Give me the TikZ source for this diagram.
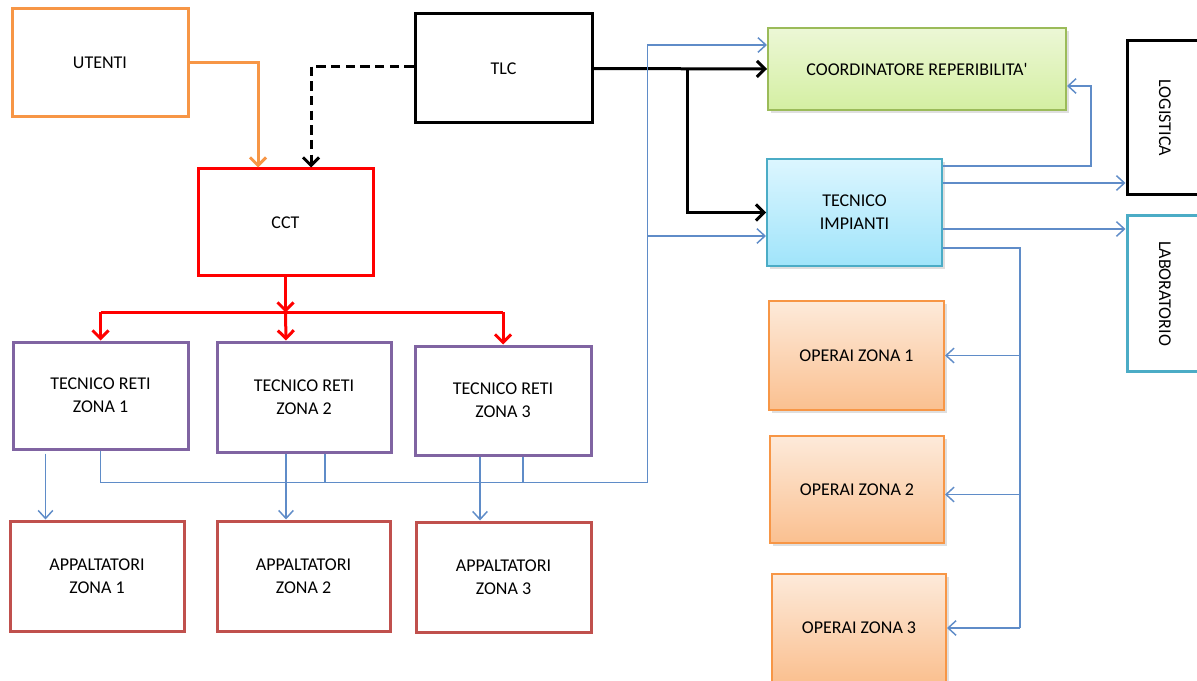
\documentclass[tikz,border=0pt]{standalone}
\usepackage{fontspec}
\setmainfont{Carlito}
\usetikzlibrary{arrows.meta,calc,shadows}
\definecolor{cOrange}{RGB}{247,150,70}
\definecolor{cPurple}{RGB}{128,100,162}
\definecolor{cAppRed}{RGB}{192,80,77}
\definecolor{cBlue}{RGB}{95,140,200}
\definecolor{cGreenB}{RGB}{155,187,89}
\definecolor{cGreenT}{RGB}{236,247,214}
\definecolor{cGreenD}{RGB}{212,239,162}
\definecolor{cCyanB}{RGB}{75,172,198}
\definecolor{cCyanT}{RGB}{220,246,255}
\definecolor{cCyanD}{RGB}{160,228,250}
\definecolor{cOrT}{RGB}{253,234,218}
\definecolor{cOrD}{RGB}{250,192,144}
\begin{document}
\begin{tikzpicture}[x=0.75pt,y=-0.75pt,
  font=\fontsize{13.5}{17.25}\selectfont,
  sz/.style 2 args={minimum width=#1*0.75pt, minimum height=#2*0.75pt, inner sep=0pt},
  box/.style={draw, rectangle, align=center, line width=2.25pt},
  sbox/.style={draw, rectangle, align=center, line width=1.5pt,
    drop shadow={opacity=0.25, shadow xshift=2pt, shadow yshift=-2pt}},
  karr/.style={-{Straight Barb[length=6pt,width=12pt]}},
  barr/.style={-{Straight Barb[length=6pt,width=11pt,line width=1.1pt]}},
  kline/.style={line width=2.25pt, black},
  rline/.style={line width=2.25pt, red},
  oline/.style={line width=2.25pt, cOrange},
  bline/.style={line width=1.1pt, cBlue}]
\useasboundingbox (0,0) rectangle (1197,681);

% nodes
\node[box, draw=cOrange, sz={176}{108}] (utenti) at (100,63) {UTENTI};
\node[box, draw=black, sz={177}{109}] (tlc) at (503.5,68.5) {TLC};
\node[box, draw=red, sz={175}{107}] (cct) at (285.5,222.5) {CCT};
\node[sbox, draw=cGreenB, top color=cGreenT, bottom color=cGreenD, sz={298}{82}] (coord) at (917,69) {COORDINATORE REPERIBILITA\textquotesingle};
\node[sbox, draw=cCyanB, top color=cCyanT, bottom color=cCyanD, sz={175}{107}] (ti) at (854.5,212.5) {TECNICO\\IMPIANTI};
\node[box, draw=black, sz={76}{154}] (log) at (1165,118) {};
\node[rotate=-90] at (log.center) {LOGISTICA};
\node[box, draw=cCyanB, sz={76}{155}] (lab) at (1165,293.5) {};
\node[rotate=-90] at (lab.center) {LABORATORIO};
\node[sbox, draw=cOrange, top color=cOrT, bottom color=cOrD, sz={175}{109}] (op1) at (856.5,355.5) {OPERAI ZONA 1};
\node[sbox, draw=cOrange, top color=cOrT, bottom color=cOrD, sz={174}{107}] (op2) at (857,489.5) {OPERAI ZONA 2};
\node[sbox, draw=cOrange, top color=cOrT, bottom color=cOrD, sz={174}{108}] (op3) at (859,628) {OPERAI ZONA 3};
\node[box, draw=cPurple, sz={175}{107}] (tr1) at (100.5,395.5) {TECNICO RETI\\ZONA 1};
\node[box, draw=cPurple, sz={174}{110}] (tr2) at (304,397) {TECNICO RETI\\ZONA 2};
\node[box, draw=cPurple, sz={176}{109}] (tr3) at (503,400.5) {TECNICO RETI\\ZONA 3};
\node[box, draw=cAppRed, sz={174}{110}] (ap1) at (97,576) {APPALTATORI\\ZONA 1};
\node[box, draw=cAppRed, sz={173}{110}] (ap2) at (303.5,576) {APPALTATORI\\ZONA 2};
\node[box, draw=cAppRed, sz={175}{110}] (ap3) at (503.5,577) {APPALTATORI\\ZONA 3};

% orange and black connectors
\draw[oline,karr] (utenti.east) -| ($(cct.north)+(-27.5,0)$);
\draw[kline,karr,dash pattern=on 7pt off 4pt] ($(tlc.west)+(0,-2)$) -| ($(cct.north)+(25.5,0)$);
\draw[kline,karr] (tlc.east) -- (coord.west);
\draw[kline,karr] ($(tlc.east)+(94,0)$) |- (ti.west);

% red connectors
\coordinate (rb) at ($(cct.south)+(0,35)$);
\draw[rline] (rb -| tr1.north) -- (rb -| tr3.north);
\draw[rline,karr] (cct.south) -- (rb);
\draw[rline,karr] (rb -| tr1.north) -- (tr1.north);
\draw[rline,karr] (rb) -- ($(tr2.north)+(-18,0)$);
\draw[rline,karr] (rb -| tr3.north) -- (tr3.north);

% blue connectors, left part
\draw[bline,barr] ($(tr1.south)+(-55,3)$) coordinate (t1) -- (t1 |- ap1.north);
\draw[bline,barr] ($(tr2.south)+(-18,0)$) coordinate (t2) -- (t2 |- ap2.north);
\draw[bline,barr] ($(tr3.south)+(-23,0)$) coordinate (t3) -- (t3 |- ap3.north);
\coordinate (bx) at ($(tr1.south)+(0,32)$);
\coordinate (vx) at ($(tlc.east)+(54,0)$);
\draw[bline,barr] (tr1.south) -- (bx) -| ($(vx |- coord.west)+(0,-24)$) -- ($(coord.west)+(0,-24)$);
\draw[bline,barr] ($(vx |- ti.west)+(0,23.5)$) -- ($(ti.west)+(0,23.5)$);
\draw[bline] ($(tr2.south)+(21,0)$) coordinate (u2) -- (u2 |- bx);
\draw[bline] ($(tr3.south)+(20,0)$) coordinate (u3) -- (u3 |- bx);

% blue connectors, right part
\draw[bline,barr] ($(ti.east)+(0,-46.5)$) -| ($(coord.east)+(24,17)$) -- ($(coord.east)+(0,17)$);
\draw[bline,barr] ($(ti.east)+(0,-29.5)$) coordinate (l1) -- (l1 -| log.west);
\draw[bline,barr] ($(ti.east)+(0,16.5)$) coordinate (l2) -- (l2 -| lab.west);
\coordinate (ox) at ($(ti.east)+(77,35.5)$);
\draw[bline] ($(ti.east)+(0,35.5)$) -- (ox) -- (ox |- op3.east);
\draw[bline,barr] (ox |- op1.east) -- (op1.east);
\draw[bline,barr] ($(ox |- op2.east)+(0,5)$) -- ($(op2.east)+(0,5)$);
\draw[bline,barr] (ox |- op3.east) -- (op3.east);
\end{tikzpicture}
\end{document}
